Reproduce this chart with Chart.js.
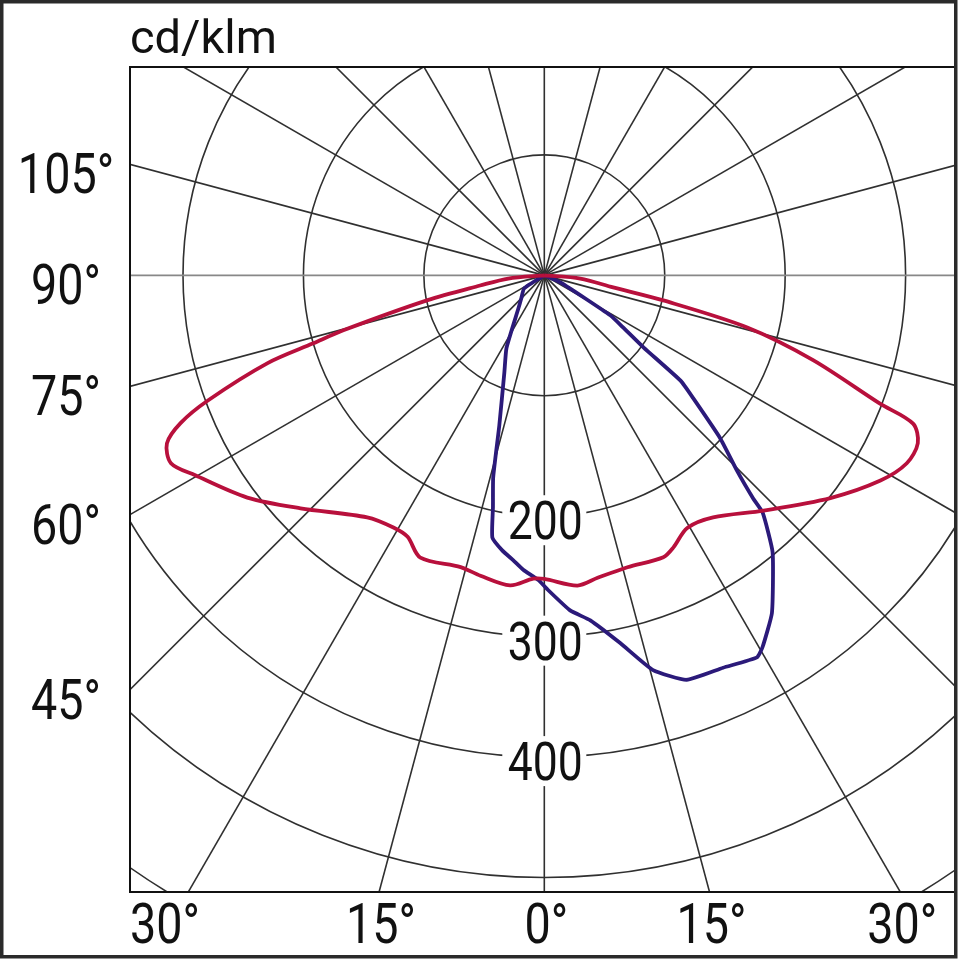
<!DOCTYPE html>
<html>
<head>
<meta charset="utf-8">
<title>cd/klm</title>
<script src="https://cdn.jsdelivr.net/npm/chart.js@4.4.1/dist/chart.umd.min.js"></script>
<style>
  html, body { margin: 0; padding: 0; background: #fff; }
  canvas { display: block; }
</style>
</head>
<body>
<canvas id="polarChart" width="960" height="960"></canvas>
<script>
// Luminous intensity, cd/klm. Angle measured from nadir, negative = left half
var redAngles = [-90, -85, -81, -78, -74.7, -73.6, -72.4, -69.6, -67.9, -66, -63.3, -60.2, -53.2, -46.3,
    -36.2, -30.9, -27.6, -23.7, -16, -12, -6.3, -2.1, 0, 6.1, 10, 15.9, 22.9, 25.4, 29.5, 34.9, 43,
    52.1, 58.6, 62.6, 65.8, 68.1, 69.1, 72.5, 75.6, 78.1, 80.1, 85, 90];
var redValues = [0, 30, 54, 99, 173, 200, 241, 298, 326, 343, 347, 334, 308, 280,
    249, 244, 245, 256, 252, 255, 259, 252, 252, 259, 255, 252, 254, 250, 241, 245, 267,
    301, 327, 339, 340, 330, 298, 234, 174, 101, 58, 30, 0];

var blueAngles = [-70, -57, -45, -38, -27.5, -22.4, -16.7, -14.2, -12.5, -11.2, -8.7, -6.2, -4.1, -1.1,
    0.4, 4.4, 7.6, 11.7, 15.4, 19.4, 24.5, 29.1, 30.4, 34, 39.5, 42.6, 43.1, 44.6, 47.2, 50.5, 52.3,
    54, 56.6, 58.8, 66.4, 75];
var blueValues = [0, 20, 27, 35, 68, 87, 130, 173, 197, 222, 231, 238, 245, 253,
    260, 279, 289, 312, 340, 356, 358, 363, 358, 338, 298, 268, 254, 228, 199, 160, 143,
    102, 78, 64, 15, 0];

var ringValues = [100, 200, 300, 400, 500, 600];
var ringLabels = [200, 300, 400];
var spokeStep = 15;
var bottomTicks = [-30, -15, 0, 15, 30];
var leftTicks = [105, 90, 75, 60, 45];

// polar -> cartesian in cd/klm units
function toXY(angles, values) {
    return angles.map(function (a, i) {
        var t = a * Math.PI / 180;
        return { x: values[i] * Math.sin(t), y: -values[i] * Math.cos(t) };
    });
}

function condensedText(ctx, text, x, y, align, sx) {
    ctx.save();
    ctx.translate(x, y);
    ctx.scale(sx, 1);
    ctx.textAlign = align;
    ctx.fillText(text, 0, 0);
    ctx.restore();
}

var polarGrid = {
    id: 'polarGrid',
    beforeDatasetsDraw: function (chart) {
        var ctx = chart.ctx, area = chart.chartArea;
        var xs = chart.scales.x, ys = chart.scales.y;
        var cx = xs.getPixelForValue(0), cy = ys.getPixelForValue(0);
        var k = xs.getPixelForValue(100) - cx; // px per 100 cd/klm

        ctx.save();
        ctx.beginPath();
        ctx.rect(area.left, area.top, area.right - area.left, area.bottom - area.top);
        ctx.clip();

        // rings
        ctx.strokeStyle = '#303030';
        ctx.lineWidth = 1.6;
        ringValues.forEach(function (r) {
            ctx.beginPath();
            ctx.arc(cx, cy, r / 100 * k, 0, Math.PI * 2);
            ctx.stroke();
        });

        // spokes
        var len = 8 * k;
        for (var a = 0; a < 360; a += spokeStep) {
            var t = a * Math.PI / 180;
            ctx.beginPath();
            ctx.moveTo(cx, cy);
            ctx.lineTo(cx + Math.sin(t) * len, cy + Math.cos(t) * len);
            ctx.strokeStyle = (a === 90 || a === 270) ? '#888' : '#303030';
            ctx.lineWidth = (a === 90 || a === 270) ? 1.8 : 1.6;
            ctx.stroke();
        }

        // ring labels on the 0 deg axis
        ctx.font = '53px Roboto';
        ctx.textBaseline = 'alphabetic';
        ringLabels.forEach(function (r) {
            var py = ys.getPixelForValue(-r) + 4;
            ctx.fillStyle = '#fff';
            ctx.fillRect(cx - 42, py - 25, 84, 50);
            ctx.fillStyle = '#111';
            condensedText(ctx, String(r), cx + 1, py + 19, 'center', 0.84);
        });
        ctx.restore();
    },
    afterDraw: function (chart) {
        var ctx = chart.ctx, area = chart.chartArea;
        var xs = chart.scales.x, ys = chart.scales.y;

        ctx.save();
        // plot frame
        ctx.strokeStyle = '#111';
        ctx.lineWidth = 2;
        ctx.strokeRect(area.left, area.top, area.right - area.left, area.bottom - area.top);
        // outer frame
        ctx.strokeStyle = '#2a2a2a';
        ctx.lineWidth = 3.5;
        ctx.strokeRect(1.75, 1.75, 954, 955);

        ctx.fillStyle = '#111';
        ctx.textBaseline = 'alphabetic';

        // unit title
        ctx.font = '47px Roboto';
        ctx.textAlign = 'left';
        ctx.fillText('cd/klm', area.left, 53);

        // bottom angle labels, where the spoke meets the bottom edge
        ctx.font = '55px Roboto';
        var yBottom = ys.min;
        bottomTicks.forEach(function (a, i) {
            var vx = -yBottom * Math.tan(a * Math.PI / 180);
            var px = xs.getPixelForValue(vx);
            var label = Math.abs(a) + '°';
            if (i === 0) {
                // first label sits against the left edge of the plot
                condensedText(ctx, label, area.left, area.bottom + 51, 'left', 0.85);
            } else {
                condensedText(ctx, label, px + 2, area.bottom + 51, 'center', 0.85);
            }
        });

        // left angle labels, next to where the spoke meets the left edge
        var xLeft = -xs.min;
        leftTicks.forEach(function (a) {
            var vy = -xLeft / Math.tan(a * Math.PI / 180);
            var py = ys.getPixelForValue(vy) + 10;
            condensedText(ctx, a + '°', 66, py + 19, 'center', 0.85);
        });
        ctx.restore();
    }
};

var ctx = document.getElementById('polarChart').getContext('2d');
var polarChart = new Chart(ctx, {
    type: 'scatter',
    data: {
        datasets: [{
            label: 'C0-C180',
            data: toXY(redAngles, redValues),
            showLine: true,
            borderColor: '#b8103c',
            borderWidth: 3.8,
            pointRadius: 0,
            tension: 0.3
        }, {
            label: 'C90-C270',
            data: toXY(blueAngles, blueValues),
            showLine: true,
            borderColor: '#2b1a7a',
            borderWidth: 3.8,
            pointRadius: 0,
            tension: 0.15
        }]
    },
    options: {
        responsive: false,
        devicePixelRatio: 1,
        animation: false,
        layout: {
            padding: { left: 130, top: 67, right: 5, bottom: 68 }
        },
        scales: {
            x: { type: 'linear', min: -344, max: 341, display: false },
            y: { type: 'linear', min: -512, max: 173, display: false }
        },
        plugins: {
            legend: { display: false },
            tooltip: { enabled: false }
        }
    },
    plugins: [polarGrid]
});
</script>
</body>
</html>
